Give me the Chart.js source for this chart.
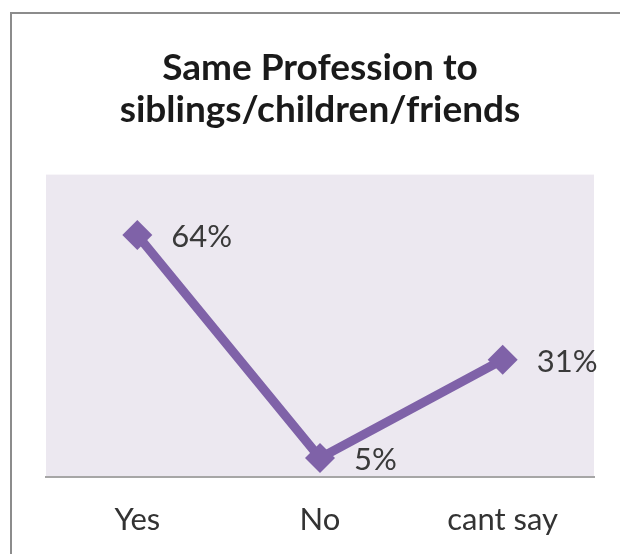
<!DOCTYPE html>
<html>
<head>
<meta charset="utf-8">
<script src="https://cdn.jsdelivr.net/npm/chart.js@4"></script>
<style>
  html, body { margin: 0; padding: 0; background: #fff; overflow: hidden; }
  #frame {
    position: absolute; left: 10px; top: 12px;
    width: 640px; height: 600px;
    border: 2px solid #8c8c8c;
  }
  #wrap { position: absolute; left: 0; top: 0; width: 620px; height: 580px; }
</style>
</head>
<body>
<div id="frame"></div>
<div id="wrap"><canvas id="chart"></canvas></div>
<script>
// Chart data
const categories = ["Yes", "No", "cant say"];
const shares = [64, 5, 31];
const titleLines = ["Same Profession to", "siblings/children/friends"];

const FONT = "Lato, 'Open Sans', sans-serif";

// Fill the plot area with the pale lavender background
const plotBackground = {
    id: "plotBackground",
    beforeDraw(chart) {
        const { ctx, chartArea } = chart;
        ctx.save();
        ctx.fillStyle = "#ece8f0";
        ctx.fillRect(chartArea.left, chartArea.top, chartArea.right - chartArea.left, chartArea.bottom - chartArea.top);
        ctx.restore();
    }
};

// Percent labels to the right of each point
const pointLabels = {
    id: "pointLabels",
    afterDatasetsDraw(chart) {
        const { ctx } = chart;
        const meta = chart.getDatasetMeta(0);
        ctx.save();
        ctx.font = "31px " + FONT;
        ctx.fillStyle = "#3a3a3a";
        ctx.textAlign = "left";
        ctx.textBaseline = "middle";
        meta.data.forEach((pt, i) => {
            ctx.fillText(shares[i] + "%", pt.x + 34, pt.y + 2);
        });
        ctx.restore();
    }
};

new Chart(document.getElementById("chart"), {
    type: "line",
    data: {
        labels: categories,
        datasets: [{
            data: shares,
            borderColor: "#7f62a8",
            backgroundColor: "#7f62a8",
            borderWidth: 9,
            pointStyle: "rectRot",
            pointRadius: 15,
            pointBorderWidth: 0,
            tension: 0
        }]
    },
    options: {
        responsive: true,
        maintainAspectRatio: false,
        animation: false,
        layout: { padding: { left: 46, right: 26, top: 0, bottom: 16 } },
        plugins: {
            legend: { display: false },
            tooltip: { enabled: false },
            title: {
                display: true,
                text: titleLines,
                color: "#1a1a1a",
                font: { family: FONT, size: 37, weight: "bold", lineHeight: 1.13 },
                padding: { top: 47, bottom: 44 }
            }
        },
        scales: {
            x: {
                offset: true,
                grid: { display: false, drawTicks: false },
                border: { color: "#a6a6a6", width: 2 },
                ticks: { color: "#333", font: { family: FONT, size: 31 }, padding: 25 }
            },
            y: {
                display: false,
                min: 0,
                max: 80
            }
        }
    },
    plugins: [plotBackground, pointLabels]
});
</script>
</body>
</html>
